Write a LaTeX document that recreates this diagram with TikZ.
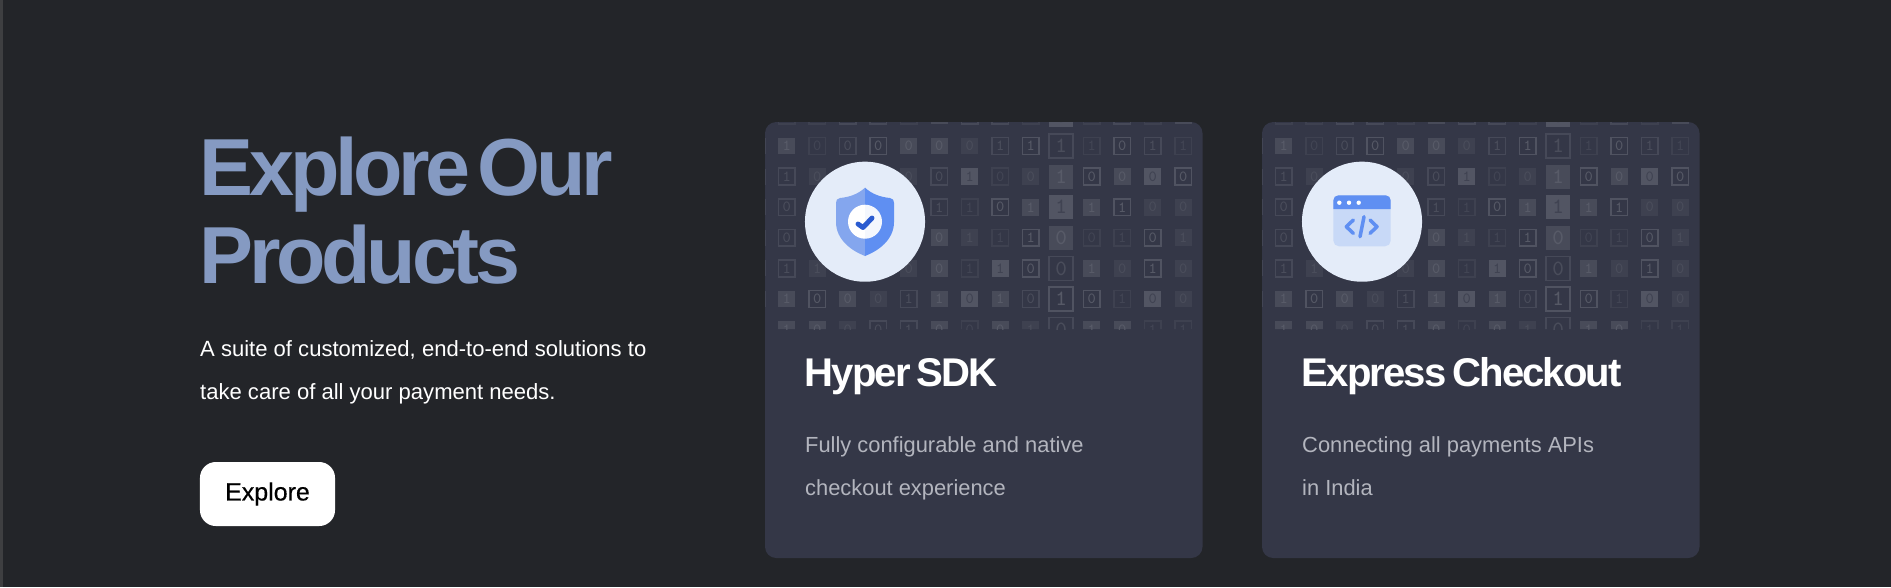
\documentclass[tikz,border=0pt]{standalone}
\usepackage{fontspec}
\usepackage{xcolor}
\usepackage{tikz}
\setmainfont{Liberation Sans}
\newfontfamily\titlefont[LetterSpace=-5.3,WordSpace=0.4]{Liberation Sans}
\newfontfamily\headfont[LetterSpace=-4.6,WordSpace=0.6]{Liberation Sans}
\newfontfamily\btnfont[FakeBold=0.4]{Liberation Sans}
\definecolor{page}{HTML}{232529}
\definecolor{strip}{HTML}{3E3F41}
\definecolor{panel}{HTML}{343747}
\definecolor{steel}{HTML}{859AC2}
\definecolor{mute}{HTML}{B3B5BE}
\definecolor{ring}{HTML}{E4ECF9}
\definecolor{azure}{HTML}{5F8FF2}
\definecolor{azurel}{HTML}{84A6EE}
\definecolor{azured}{HTML}{2A5BD0}
\definecolor{pale}{HTML}{C8D9F7}
\tikzset{
  tile/.style={rectangle,inner sep=0pt,minimum size=4.75pt,line width=0.45pt,
    font=\ttfamily\fontsize{4.4}{5}\selectfont},
  tile big/.style={minimum size=6.8pt,font=\ttfamily\fontsize{6.2}{7}\selectfont},
  a/.style={draw=panel!95!white,text=panel!93!white},
  b/.style={draw=panel!91!white,text=panel!89!white},
  c/.style={draw=panel!86!white,text=panel!83!white},
  d/.style={fill=panel!95!white,text=panel!89!white},
  e/.style={fill=panel!90!white,text=panel!82!white},
  f/.style={fill=panel!85!white,text=panel!94!white},
  lbl/.style={inner sep=0pt,anchor=base west,align=left}
}
\begin{document}
\begin{tikzpicture}[x=0.01cm,y=-0.01cm]
  \useasboundingbox (0,0) rectangle (1891,587);
  \fill[page] (0,0) rectangle (1891,587);
  \fill[strip] (0,0) rectangle (3,587);
  \node[lbl,text=steel,font=\titlefont\bfseries\fontsize{23}{25}\selectfont] (title) at (199,283) {Explore Our\\Products};
  \node[lbl,text=white,font=\fontsize{6.27}{12.2}\selectfont] (blurb) at (199.5,399) {A suite of customized, end-to-end solutions to\\take care of all your payment needs.};
  \node[fill=white,rounded corners=4.5pt,minimum width=38.4pt,minimum height=18.2pt,inner sep=0pt,font=\btnfont\fontsize{7.1}{8}\selectfont] (explore) at (267.5,494) {Explore};
  \foreach \cx/\cname/\head/\desc in {0/hyper/Hyper SDK/{Fully configurable and native\\checkout experience},497/express/Express Checkout/{Connecting all payments APIs\\in India}}{
    \begin{scope}[xshift=\cx*0.01cm]
      \fill[panel,rounded corners=3.2pt] (765,122) rectangle (1202.5,558);
      \begin{scope}
        \clip[rounded corners=3.2pt] (765,122) rectangle (1202.5,329);
        \foreach \row/\cells in {-1/{0/a,0/a,0/b,0/b,0/a,0/e,0/b,0/b,0/a,0/f,0/a,0/b,0/a,0/e},
          0/{1/e,0/a,0/b,0/c,0/e,0/e,0/d,1/b,1/c,1/b,1/a,0/c,1/b,1/a},
          1/{1/b,0/d,0/d,0/d,0/d,0/b,1/f,0/a,0/d,1/e,0/c,0/e,0/f,0/c},
          2/{0/b,0/d,0/d,0/d,0/d,1/b,1/a,0/c,1/e,1/f,1/e,1/c,0/d,0/d},
          3/{0/b,0/d,0/d,0/d,0/d,0/e,1/d,1/a,1/c,0/e,0/a,1/a,0/c,1/d},
          4/{1/b,1/d,0/d,0/d,0/d,0/e,1/a,1/f,0/c,0/b,1/e,0/d,1/c,0/d},
          5/{1/e,0/c,0/e,0/d,1/b,1/e,0/f,1/e,0/b,1/c,0/c,1/a,0/f,0/d},
          6/{1/e,0/e,0/d,0/b,1/b,0/e,0/a,0/e,1/d,0/b,1/e,0/e,1/a,1/a}}{
          \fill[panel!93!white] (765,{146+30.6*\row-8}) rectangle (766,{146+30.6*\row+8});
          \foreach \bit/\kind [count=\col from 0] in \cells{
            \ifnum\col=9
              \node[tile,tile big,\kind] (t-\cname-\row-\col) at ({786.7+30.5*\col},{146+30.6*\row}) {\bit};
            \else
              \node[tile,\kind] (t-\cname-\row-\col) at ({786.7+30.5*\col},{146+30.6*\row}) {\bit};
            \fi
          }
        }
      \end{scope}
      \node[fill=ring,circle,minimum size=34.14pt,inner sep=0pt] (ring-\cname) at (865,221.7) {};
      \node[lbl,text=white,font=\headfont\bfseries\fontsize{11.4}{13}\selectfont] (head-\cname) at (804,386) {\head};
      \node[lbl,text=mute,font=\fontsize{6.22}{12.2}\selectfont] (desc-\cname) at (804.5,495) {\desc};
    \end{scope}
  }
  \fill[azurel] (865,187.7) .. controls (858,194) and (850,197) .. (840,198) .. controls (837,198.5) and (836,200) .. (836,203) -- (836,222) .. controls (836,240) and (852,251) .. (865,256) -- cycle;
  \fill[azure] (865,187.7) .. controls (872,194) and (880,197) .. (890,198) .. controls (893,198.5) and (894,200) .. (894,203) -- (894,222) .. controls (894,240) and (878,251) .. (865,256) -- cycle;
  \fill[white] (865,204.7) arc (-90:-270:17) -- cycle;
  \fill[ring!40!white] (865,204.7) arc (-90:90:17) -- cycle;
  \draw[azured,line width=1.4pt,line cap=round,line join=round] (858,224) -- (863,227.5) -- (872,218);
  \fill[pale,rounded corners=1.6pt] (1333.3,195.3) rectangle (1390.7,246.3);
  \fill[azure] (1333.3,209) -- (1333.3,200.3) arc (180:270:5) -- (1385.7,195.3) arc (270:360:5) -- (1390.7,209) -- cycle;
  \foreach \dotx in {1339.3,1349,1358.7}{\fill[white] (\dotx,202.7) circle (2.2);}
  \draw[azure,line width=1pt,line cap=round,line join=round] (1353.3,220) -- (1346.3,226.7) -- (1353.3,233.3);
  \draw[azure,line width=1pt,line cap=round,line join=round] (1370,220) -- (1377,226.7) -- (1370,233.3);
  \draw[azure,line width=1pt,line cap=round] (1364,216.7) -- (1360,236.7);
\end{tikzpicture}
\end{document}
